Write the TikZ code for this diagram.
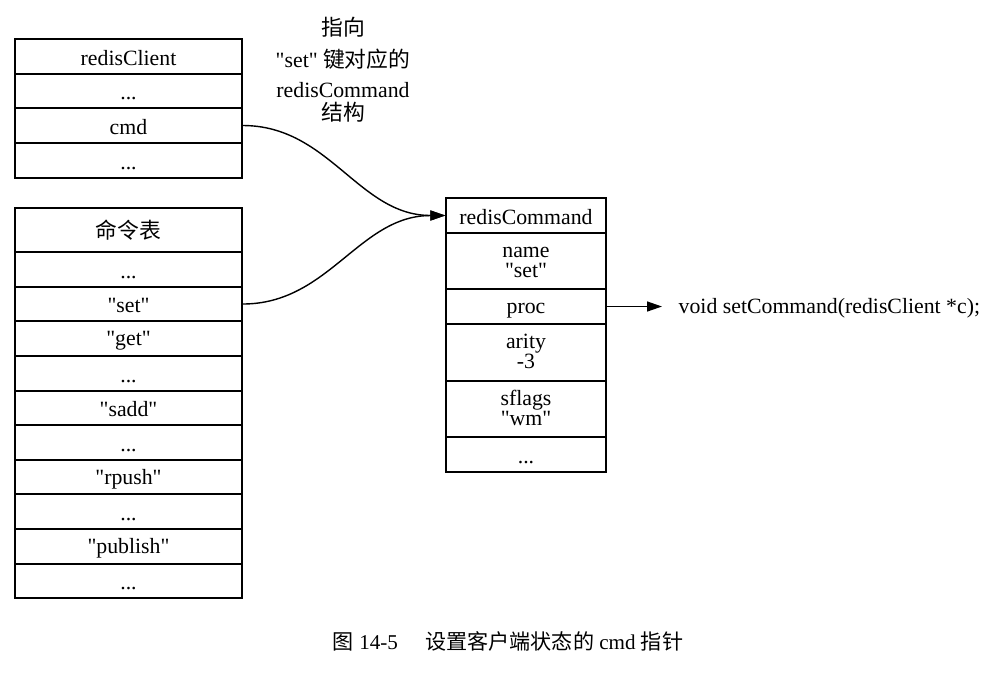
\documentclass[tikz,border=0pt]{standalone}
\usepackage{fontspec}
\setmainfont{Liberation Serif}[Ligatures=TeXOff]
\newfontfamily\cjk{Noto Sans CJK SC}
\usetikzlibrary{arrows.meta}
\newcommand{\rowdots}{...}
\newcommand{\cellstrut}{\rule[-1pt]{0pt}{12pt}}
\newcommand{\lowstrut}{\rule[-4pt]{0pt}{4pt}}

\begin{document}
\begin{tikzpicture}
    [ x=.02cm, y=-.02cm, font=\fontsize{12.4pt}{11.5pt}\selectfont,
      line width=.8pt, >={Triangle[length=.3cm,width=.2cm]},
      field/.style={draw, inner sep=0pt, align=center},
    ]
    \useasboundingbox (0,0) rectangle (1006,674);

    % redisClient
    \foreach \i / \a / \b / \txt in {0/39/74/redisClient, 1/74/108/\rowdots, 2/108/143/cmd, 3/143/178/\rowdots} {
        \node[field, minimum width=4.54cm, minimum height={(\b-\a)*.02cm}] (client\i) at (128.5, {(\a+\b)/2}) {\cellstrut\txt};
    }

    % command table
    \foreach \i / \a / \b / \txt in {0/208/252/{\cjk 命令表}, 1/252/287/\rowdots, 2/287/321/"set", 3/321/356/"get",
        4/356/391/\rowdots, 5/391/425/"sadd", 6/425/460/\rowdots, 7/460/494/"rpush", 8/494/529/\rowdots,
        9/529/564/"publish", 10/564/598/\rowdots} {
        \node[field, minimum width=4.54cm, minimum height={(\b-\a)*.02cm}] (table\i) at (128.5, {(\a+\b)/2}) {\cellstrut\txt};
    }

    % redisCommand
    \foreach \i / \a / \b / \txt in {0/198/233/redisCommand, 1/233/289/name\\"set"\lowstrut, 2/289/324/proc,
        3/324/381/arity\\-3\lowstrut, 4/381/437/sflags\\"wm"\lowstrut, 5/437/472/\rowdots} {
        \node[field, minimum width=3.2cm, minimum height={(\b-\a)*.02cm}] (cmd\i) at (526, {(\a+\b)/2}) {\cellstrut\txt};
    }

    \node[align=center] (note) at (343,70)
        {{\cjk 指向}\\[5.5pt] "set" {\cjk 键对应的}\\[5.5pt] redisCommand\\[2pt] {\cjk 结构}};

    \node[anchor=west, inner xsep=.32cm, inner ysep=0pt] (proc) at (662,306.5) {\cellstrut void setCommand(redisClient *c);};

    \draw[->] (client2.east) to[out=0, in=180] (cmd0.west);
    \draw[->] (table2.east) to[out=0, in=180] (cmd0.west);
    \draw[->] (cmd2.east) -- (cmd2.east -| proc.west);

    \node[font=\fontsize{12pt}{14pt}\selectfont] (caption) at (508,641)
        {{\cjk 图} 14-5\hspace{.55cm}{\cjk 设置客户端状态的} cmd {\cjk 指针}};
\end{tikzpicture}
\end{document}
